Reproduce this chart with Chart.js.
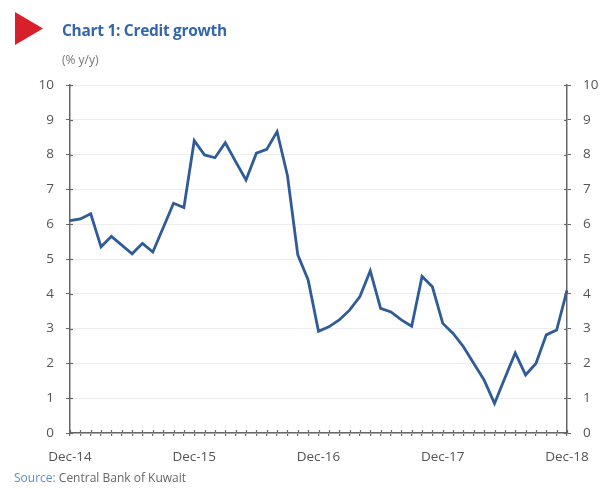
<!DOCTYPE html>
<html>
<head>
<meta charset="utf-8">
<script src="https://cdn.jsdelivr.net/npm/chart.js@4"></script>
<style>
  html, body { margin:0; padding:0; background:#fff; }
  #wrap { position:relative; width:602px; height:489px; overflow:hidden; font-family:"Open Sans", "Noto Sans", sans-serif; }
  #c { position:absolute; left:0; top:0; }
  .tri { position:absolute; left:15px; top:12px; width:28px; height:33px; background:#d8202a; clip-path:polygon(0 0, 100% 50%, 0 100%); }
  .title { position:absolute; left:62px; top:19px; font-size:15.5px; font-weight:700; color:#3467a8; letter-spacing:-0.3px; white-space:nowrap; }
  .sub { position:absolute; left:62px; top:51px; font-size:12px; color:#777; white-space:nowrap; }
  .src { position:absolute; left:14px; top:469px; font-size:12px; color:#666; white-space:nowrap; }
  .src span { color:#5b8ed0; }
</style>
</head>
<body>
<div id="wrap">
  <canvas id="c" width="602" height="489"></canvas>
  <div class="tri"></div>
  <div class="title">Chart 1: Credit growth</div>
  <div class="sub">(% y/y)</div>
  <div class="src"><span>Source:</span> Central Bank of Kuwait</div>
</div>
<script>
const months = [
  'Dec-14','Jan-15','Feb-15','Mar-15','Apr-15','May-15','Jun-15','Jul-15','Aug-15','Sep-15','Oct-15','Nov-15',
  'Dec-15','Jan-16','Feb-16','Mar-16','Apr-16','May-16','Jun-16','Jul-16','Aug-16','Sep-16','Oct-16','Nov-16',
  'Dec-16','Jan-17','Feb-17','Mar-17','Apr-17','May-17','Jun-17','Jul-17','Aug-17','Sep-17','Oct-17','Nov-17',
  'Dec-17','Jan-18','Feb-18','Mar-18','Apr-18','May-18','Jun-18','Jul-18','Aug-18','Sep-18','Oct-18','Nov-18',
  'Dec-18'
];
const creditGrowth = [
  6.1, 6.15, 6.3, 5.35, 5.65, 5.4, 5.15, 5.45, 5.2, 5.9, 6.6, 6.48,
  8.4, 7.99, 7.91, 8.34, 7.8, 7.27, 8.04, 8.15, 8.66, 7.4, 5.12, 4.4,
  2.92, 3.05, 3.25, 3.53, 3.92, 4.66, 3.58, 3.48, 3.25, 3.07, 4.5, 4.2,
  3.15, 2.86, 2.48, 2.0, 1.52, 0.85, 1.58, 2.3, 1.67, 2.0, 2.82, 2.96,
  4.1
];
const shownLabels = ['Dec-14','Dec-15','Dec-16','Dec-17','Dec-18'];
const yMin = 0, yMax = 10, yStep = 1;

const tickFont = { family: '"Open Sans", "Noto Sans", sans-serif', size: 13.5 };
const axisCol = '#666';

// tick marks that cross the axis lines, as in the reference
const crossTicks = {
  id: 'crossTicks',
  afterDraw(chart) {
    const ctx = chart.ctx, a = chart.chartArea;
    ctx.save();
    ctx.strokeStyle = axisCol; ctx.lineWidth = 1.2;
    const xs = chart.scales.x;
    xs.ticks.forEach((t, i) => {
      const px = Math.round(xs.getPixelForTick(i)) + 0.5;
      ctx.beginPath(); ctx.moveTo(px, a.bottom - 3); ctx.lineTo(px, a.bottom); ctx.stroke();
    });
    const ys = chart.scales.y;
    ys.ticks.forEach((t, i) => {
      const py = Math.round(ys.getPixelForTick(i)) + 0.5;
      ctx.beginPath(); ctx.moveTo(a.left, py); ctx.lineTo(a.left + 3, py); ctx.stroke();
      ctx.beginPath(); ctx.moveTo(a.right - 3, py); ctx.lineTo(a.right, py); ctx.stroke();
    });
    ctx.restore();
  }
};

new Chart(document.getElementById('c'), {
  type: 'line',
  data: {
    labels: months,
    datasets: [{
      label: 'Credit growth',
      data: creditGrowth,
      borderColor: '#2f5b98',
      borderWidth: 2.8,
      pointRadius: 0,
      tension: 0,
      fill: false
    }]
  },
  plugins: [crossTicks],
  options: {
    responsive: false,
    animation: false,
    devicePixelRatio: 1,
    layout: { padding: { top: 85, bottom: 0, left: 0, right: 0 } },
    plugins: { legend: { display: false }, tooltip: { enabled: false }, title: { display: false } },
    scales: {
      x: {
        type: 'category',
        offset: false,
        grid: { drawOnChartArea: false, tickColor: axisCol, tickLength: 3, lineWidth: 1.2 },
        border: { color: axisCol, width: 1.5 },
        ticks: {
          autoSkip: false, maxRotation: 0, minRotation: 0, padding: 13,
          color: '#555', font: tickFont,
          callback: function(v) { const l = this.getLabelForValue(v); return shownLabels.includes(l) ? l : ''; }
        },
        afterFit: s => { s.height = 56; }
      },
      y: {
        position: 'left', min: yMin, max: yMax,
        grid: { color: '#eeeeee', tickColor: axisCol, tickLength: 4, lineWidth: 1 },
        border: { color: axisCol, width: 1.5 },
        ticks: { stepSize: yStep, padding: 12, color: '#555', font: tickFont },
        afterFit: s => { s.width = 70; }
      },
      y2: {
        position: 'right', min: yMin, max: yMax,
        grid: { drawOnChartArea: false, tickColor: axisCol, tickLength: 4 },
        border: { color: axisCol, width: 1.5 },
        ticks: { stepSize: yStep, padding: 12, color: '#555', font: tickFont },
        afterFit: s => { s.width = 35; }
      }
    }
  }
});
</script>
</body>
</html>
